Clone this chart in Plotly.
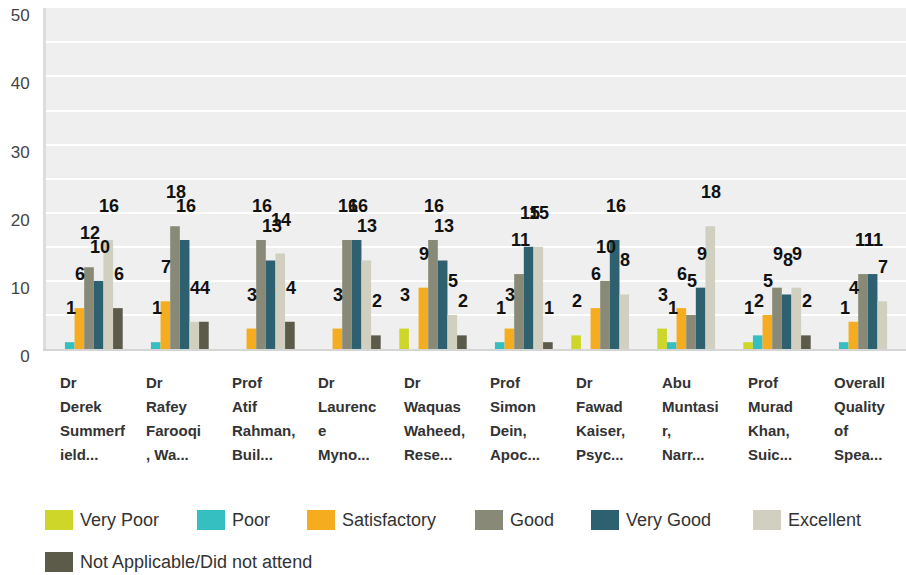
import plotly.graph_objects as go

categories = [
    "Dr<br>Derek<br>Summerf<br>ield...",
    "Dr<br>Rafey<br>Farooqi<br>, Wa...",
    "Prof<br>Atif<br>Rahman,<br>Buil...",
    "Dr<br>Laurenc<br>e<br>Myno...",
    "Dr<br>Waquas<br>Waheed,<br>Rese...",
    "Prof<br>Simon<br>Dein,<br>Apoc...",
    "Dr<br>Fawad<br>Kaiser,<br>Psyc...",
    "Abu<br>Muntasi<br>r,<br>Narr...",
    "Prof<br>Murad<br>Khan,<br>Suic...",
    "Overall<br>Quality<br>of<br>Spea...",
]

series_names = ["Very Poor", "Poor", "Satisfactory", "Good", "Very Good",
                "Excellent", "Not Applicable/Did not attend"]
very_poor    = [0, 0, 0, 0, 3, 0, 2, 3, 1, 0]
poor         = [1, 1, 0, 0, 0, 1, 0, 1, 2, 1]
satisfactory = [6, 7, 3, 3, 9, 3, 6, 6, 5, 4]
good         = [12, 18, 16, 16, 16, 11, 10, 5, 9, 11]
very_good    = [10, 16, 13, 16, 13, 15, 16, 9, 8, 11]
excellent    = [16, 4, 14, 13, 5, 15, 8, 18, 9, 7]
not_applic   = [6, 4, 4, 2, 2, 1, 0, 0, 2, 0]

colors = ["#CDD629", "#35BFC0", "#F6AC1F", "#888A77", "#2E6170", "#D0CFC0", "#5C5B4A"]
values = [very_poor, poor, satisfactory, good, very_good, excellent, not_applic]

# layout in pixels
W, H = 906, 575
L, T, R, B = 46, 8, 0, 226
plot_w = W - L - R
plot_h = H - T - B
bargap = 0.216
bw = plot_w / len(categories) * (1 - bargap) / len(series_names)

xcats = list(range(len(categories)))

fig = go.Figure()
for name, vals, col in zip(series_names, values, colors):
    fig.add_trace(go.Bar(x=xcats, y=vals, name=name, marker=dict(color=col, line=dict(width=0)),
                         showlegend=False))

annotations = []
# value labels, floating above bars (they overlap in places, as in the original)
for j, vals in enumerate(values):
    for i, v in enumerate(vals):
        if v == 0:
            continue
        annotations.append(dict(x=i, y=v, xref="x", yref="y", text="<b>%d</b>" % v,
                                showarrow=False, xshift=(j - 3) * bw + 1, yshift=34,
                                yanchor="middle", xanchor="center",
                                font=dict(family="Liberation Sans, Arial", size=18, color="#111")))

# category labels, left aligned, one annotation per line
for i, cat in enumerate(categories):
    for k, line in enumerate(cat.split("<br>")):
        annotations.append(dict(x=i, y=0, xref="x", yref="paper", text="<b>%s</b>" % line,
                                showarrow=False, xshift=-31, yshift=-(382 + k * 24.3 - (T + plot_h)),
                                xanchor="left", yanchor="middle",
                                font=dict(family="Liberation Sans, Arial", size=15, color="#333")))

# custom legend
def px(x):
    return (x - L) / plot_w

def py(y):
    return (T + plot_h - y) / plot_h

legend_pos = [(45, 520), (197, 520), (307, 520), (475, 520), (591, 520), (753, 520), (45, 562)]
shapes = []
for name, col, (lx, ly) in zip(series_names, colors, legend_pos):
    shapes.append(dict(type="rect", xref="paper", yref="paper",
                       x0=px(lx), x1=px(lx + 28), y0=py(ly + 10), y1=py(ly - 10),
                       fillcolor=col, line=dict(width=0)))
    annotations.append(dict(x=px(lx + 33), y=py(ly), xref="paper", yref="paper", text=name,
                            showarrow=False, xanchor="left", yanchor="middle",
                            font=dict(family="Liberation Sans, Arial", size=18, color="#333")))

fig.update_layout(
    width=W, height=H,
    margin=dict(l=L, r=R, t=T, b=B),
    paper_bgcolor="white", plot_bgcolor="#EFEFEF",
    barmode="group", bargap=bargap, bargroupgap=0,
    annotations=annotations, shapes=shapes,
    showlegend=False,
)
fig.update_xaxes(range=[-0.5, len(categories) - 0.5], showticklabels=False, showgrid=False,
                 showline=True, linecolor="#D5D5D5", linewidth=2, zeroline=False, fixedrange=True)
fig.update_yaxes(range=[0, 50.05], tickvals=[0, 10, 20, 30, 40, 50], showgrid=True,
                 gridcolor="white", gridwidth=2,
                 minor=dict(dtick=5, showgrid=True, gridcolor="white", gridwidth=2),
                 showline=True, linecolor="#DCDCDC", linewidth=3, zeroline=False,
                 ticklabelstandoff=10, ticklabelshift=7,
                 tickfont=dict(family="Liberation Sans, Arial", size=17, color="#444"))

fig.write_html("out.html", config={"displayModeBar": False},
               post_script="document.body.style.margin='0';")
